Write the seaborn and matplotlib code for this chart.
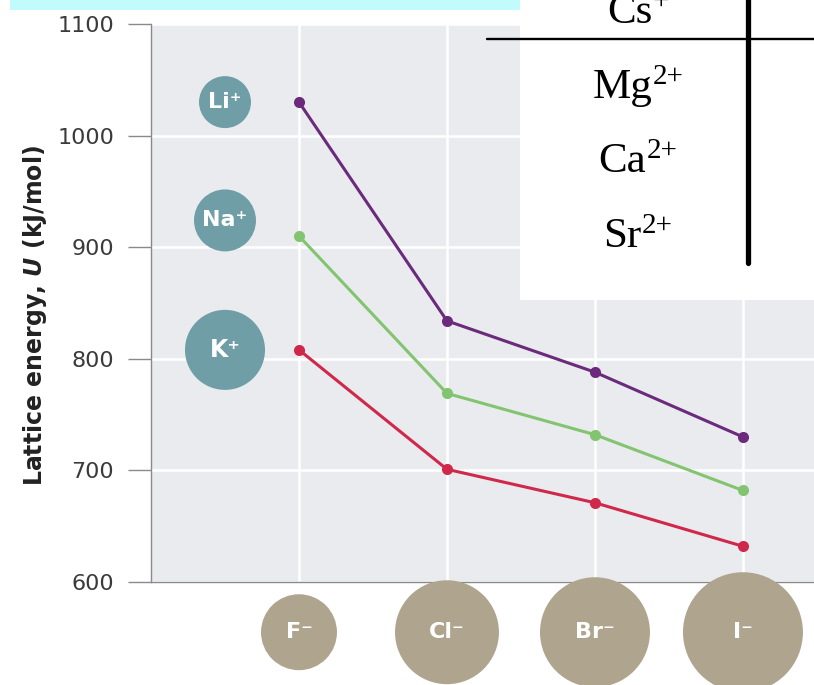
import numpy as np
import pandas as pd
import seaborn as sns
import matplotlib.pyplot as plt
from matplotlib.patches import Rectangle
from matplotlib.lines import Line2D

# Lattice energies (kJ/mol) of the alkali halides
anions = ['F⁻', 'Cl⁻', 'Br⁻', 'I⁻']
cations = ['Li⁺', 'Na⁺', 'K⁺']
li_vals = [1030, 834, 788, 730]
na_vals = [910, 769, 732, 682]
k_vals = [808, 701, 671, 632]

# ion bubbles (height of the cation bubbles, bubble sizes ~ ionic radius)
cation_y = [1030, 924, 808]
cation_size = [1400, 1990, 3320]
cation_font = [16, 16, 17]
anion_size = [2990, 5600, 6270, 7460]

yticks = [600, 700, 800, 900, 1000, 1100]

# fragment of the table pasted over the corner
table_rows = ['Cs', 'Mg', 'Ca', 'Sr']
table_sups = ['+', '2+', '2+', '2+']

line_colors = ['#6c2a7c', '#82c470', '#d0284b']
teal = '#6f9ea6'
tan = '#afa48e'

df = pd.DataFrame({
    'pos': np.tile(np.arange(1, len(anions) + 1), len(cations)),
    'energy': li_vals + na_vals + k_vals,
    'cation': np.repeat(cations, len(anions)),
})

sns.set_style('whitegrid', {'axes.facecolor': '#e9ebee', 'grid.color': 'white',
                            'axes.edgecolor': '#8a8a8a'})
plt.rcParams['font.family'] = ['DejaVu Sans']

fig = plt.figure(figsize=(8.14, 6.85), dpi=100)
ax = fig.add_axes([151 / 814, 103 / 685, 663 / 814, 558 / 685])

sns.lineplot(data=df, x='pos', y='energy', hue='cation', palette=line_colors,
             marker='o', markersize=8, markeredgewidth=0, linewidth=2.2,
             legend=False, ax=ax, zorder=4)

ax.set_xlim(0, 4.48)
ax.set_ylim(600, 1100)
ax.set_yticks(yticks)
ax.set_xticks(range(1, len(anions) + 1))
ax.set_xticklabels([])
ax.grid(True, color='white', linewidth=1.8)
ax.tick_params(axis='x', length=0)
ax.tick_params(axis='y', left=True, length=16.5, width=1, color='#8a8a8a',
               pad=10, labelsize=16, labelcolor='#3a3a3a')
for side in ['top', 'right']:
    ax.spines[side].set_visible(False)
for side in ['left', 'bottom']:
    ax.spines[side].set_linewidth(1)
ax.set_xlabel('')
ax.set_ylabel(r'Lattice energy, $\mathbfit{U}$ (kJ/mol)', fontsize=17,
              fontweight='bold', color='#222222', math_fontfamily='dejavusans')
ax.yaxis.set_label_coords(-0.175, 0.477)
ax.yaxis.label.set_va('center')

# cation bubbles
ax.scatter([0.5] * len(cations), cation_y, s=cation_size, color=teal,
           linewidths=0, zorder=3)
for lab, y, fs in zip(cations, cation_y, cation_font):
    ax.text(0.5, y, lab, ha='center', va='center', color='white',
            fontsize=fs, fontweight='bold', zorder=5)

# anion bubbles under the axis
trans = ax.get_xaxis_transform()
ax.scatter(range(1, len(anions) + 1), [-0.09] * len(anions), s=anion_size,
           color=tan, linewidths=0, transform=trans, clip_on=False, zorder=3)
for i, lab in enumerate(anions):
    ax.text(i + 1, -0.09, lab, transform=trans, ha='center', va='center',
            color='white', fontsize=16, fontweight='bold', zorder=5)

# overlay: cyan strip and white table fragment
fig.add_artist(Rectangle((10 / 814, 1 - 10 / 685), 510 / 814, 10 / 685,
                         transform=fig.transFigure, facecolor='#c2fbfc',
                         edgecolor='none', zorder=10))
fig.add_artist(Rectangle((520 / 814, 1 - 300 / 685), 294 / 814, 300 / 685,
                         transform=fig.transFigure, facecolor='white',
                         edgecolor='none', zorder=10))
fig.add_artist(Line2D([487 / 814, 1], [1 - 39 / 685] * 2, color='black',
                      linewidth=1.7, transform=fig.transFigure, zorder=11))
fig.add_artist(Line2D([748 / 814] * 2, [1, 1 - 263 / 685], color='black',
                      linewidth=3.8, transform=fig.transFigure, zorder=11))

renderer = fig.canvas.get_renderer()
baselines = [23, 98, 172, 247]
for base, sup, yb in zip(table_rows, table_sups, baselines):
    t1 = fig.text(0, 1 - yb / 685, base, fontsize=31, family='Liberation Serif',
                  va='baseline', ha='left', color='black', zorder=12)
    t2 = fig.text(0, 1 - (yb - 14) / 685, sup, fontsize=21, color='black',
                  family='Liberation Serif', va='baseline', ha='left', zorder=12)
    w1 = t1.get_window_extent(renderer).width
    w2 = t2.get_window_extent(renderer).width
    x0 = 638 - (w1 + w2) / 2
    t1.set_x(x0 / 814)
    t2.set_x((x0 + w1) / 814)

fig.savefig('out.png', dpi=100)
